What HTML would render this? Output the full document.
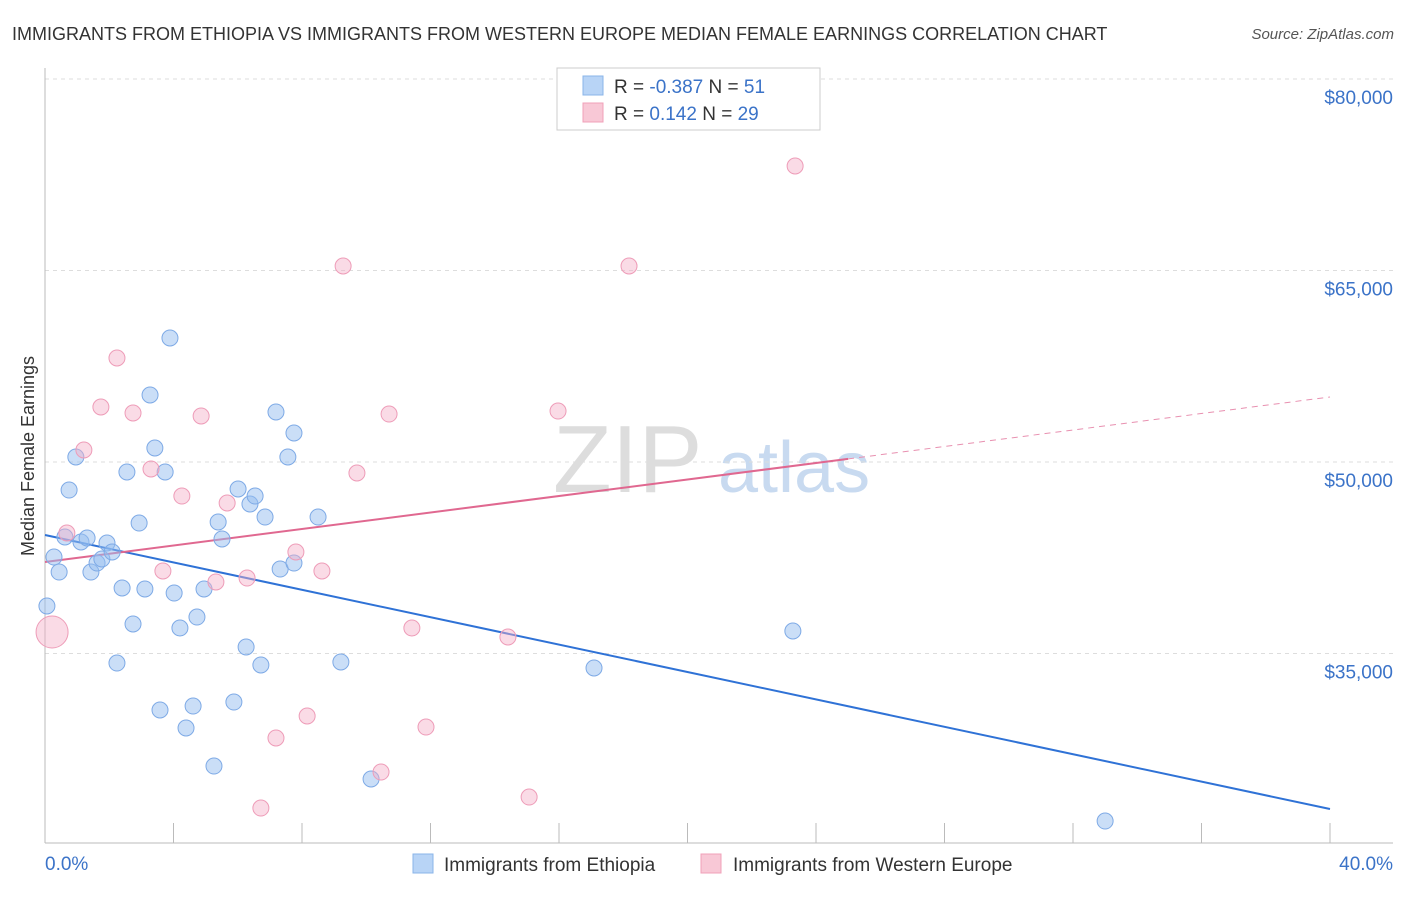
<!DOCTYPE html>
<html><head><meta charset="utf-8"><style>
body{margin:0;background:#fff;font-family:"Liberation Sans",sans-serif}
svg text{font-family:"Liberation Sans",sans-serif}
</style></head><body>
<svg id="chart" width="1406" height="892" viewBox="0 0 1406 892" xmlns="http://www.w3.org/2000/svg">
<text x="12" y="40" font-size="18" fill="#333">IMMIGRANTS FROM ETHIOPIA VS IMMIGRANTS FROM WESTERN EUROPE MEDIAN FEMALE EARNINGS CORRELATION CHART</text>
<text x="1394" y="39" font-size="15" fill="#555" font-style="italic" text-anchor="end">Source: ZipAtlas.com</text>
<g>
<text x="553" y="492" font-size="96" font-family="Liberation Serif" fill="#ddd">ZIP</text>
<text x="718" y="492" font-size="72" fill="#c8daf0">atlas</text>
</g>
<g id="grid"></g>
<g id="axes"></g>
<text transform="translate(34,456) rotate(-90)" font-size="18" fill="#333" text-anchor="middle">Median Female Earnings</text>
<g id="trends"></g>
<g id="points"></g>
<g>
<rect x="557" y="68" width="263" height="62" fill="#fff" stroke="#ccc"/>
<rect x="583" y="76" width="20" height="19" fill="#b8d4f6" stroke="#8ab4e8"/>
<rect x="583" y="103" width="20" height="19" fill="#f8c8d6" stroke="#f0a0b8"/>
<text x="614" y="93" font-size="19" fill="#333">R = <tspan fill="#3b73c8">-0.387</tspan>   N = <tspan fill="#3b73c8"> 51</tspan></text>
<text x="614" y="120" font-size="19" fill="#333">R =  <tspan fill="#3b73c8"> 0.142</tspan>   N = <tspan fill="#3b73c8">29</tspan></text>
</g>
<g>
<rect x="413" y="854" width="20" height="19" fill="#b8d4f6" stroke="#8ab4e8"/>
<text x="444" y="871" font-size="19" fill="#333">Immigrants from Ethiopia</text>
<rect x="701" y="854" width="20" height="19" fill="#f8c8d6" stroke="#f0a0b8"/>
<text x="733" y="871" font-size="19" fill="#333">Immigrants from Western Europe</text>
</g>
</svg>
<script>
const yTicks=[35000,50000,65000,80000];
const yTickLabels=["$35,000","$50,000","$65,000","$80,000"];
const xTickValues=[0,4,8,12,16,20,24,28,32,36,40];
const xTickLabels=["0.0%","40.0%"];
const blueX=[0.06,0.28,0.44,0.62,0.75,0.96,1.12,1.31,1.43,1.62,1.77,1.93,2.09,2.24,2.40,2.55,2.74,2.93,3.11,3.27,3.42,3.58,3.74,3.89,4.02,4.20,4.39,4.61,4.73,4.95,5.26,5.39,5.51,5.88,6.01,6.26,6.38,6.54,6.72,6.85,7.19,7.32,7.56,7.75,7.75,8.50,9.21,10.15,17.09,23.28,33.00];
const blueY=[38720,42558,41383,44125,47806,50391,43733,44047,41383,42088,42402,43655,42950,34255,40130,49216,37310,45221,40052,55248,51096,30574,49216,59713,39738,36997,29164,30887,37858,40052,26187,45300,43968,31200,47885,35509,46710,47336,34099,45691,53916,41618,50391,52271,42088,45691,34334,25169,33864,36762,21879];
const pinkX=[0.22,0.68,1.21,1.74,2.24,2.74,3.30,3.67,4.26,4.86,5.32,5.67,6.29,7.19,6.72,7.81,8.16,8.62,9.28,9.71,10.46,10.71,11.42,11.86,14.41,15.07,15.97,18.18,23.35];
const pinkY=[36684,44438,50940,54308,58146,53838,49451,41462,47336,53603,40600,46788,40913,28381,22897,42950,30104,41462,65352,49138,25717,53759,36997,29242,36292,23759,53994,65352,73185];
const pinkR=[16,8,8,8,8,8,8,8,8,8,8,8,8,8,8,8,8,8,8,8,8,8,8,8,8,8,8,8,8];
const blueTrend=[44281,22819];
const pinkTrend=[42166,55091];
const pinkSolidEnd=25;

const NS="http://www.w3.org/2000/svg";
const X0=45,X1=1330,Y80=79,PXPER=191.5/15000;
function sx(v){return X0+(v/40)*(X1-X0);}
function sy(v){return Y80+(80000-v)*PXPER;}
function mk(t,a,p){const e=document.createElementNS(NS,t);for(const k in a)e.setAttribute(k,a[k]);p.appendChild(e);return e;}
const grid=document.getElementById('grid'),axes=document.getElementById('axes');
yTicks.forEach((v,i)=>{
 const l=mk('line',{x1:X0,x2:1393,y1:sy(v),y2:sy(v),stroke:'#ddd','stroke-dasharray':'4,4'},grid);
 
 
 const t=mk('text',{x:1393,y:sy(v)+25,'font-size':19,fill:'#3b73c8','text-anchor':'end'},axes);
 t.textContent=yTickLabels[i];
 
 
});
const ax=mk('line',{x1:X0,x2:1393,y1:843,y2:843,stroke:'#bbb'},axes);


const ay=mk('line',{x1:X0,x2:X0,y1:68,y2:843,stroke:'#bbb'},axes);


xTickValues.forEach(v=>{
 const t=mk('line',{x1:sx(v),x2:sx(v),y1:823,y2:843,stroke:'#bbb'},axes);
 
 
});
const xl0=mk('text',{x:X0,y:870,'font-size':19,fill:'#3b73c8'},axes);xl0.textContent=xTickLabels[0];


const xl1=mk('text',{x:1393,y:870,'font-size':19,fill:'#3b73c8','text-anchor':'end'},axes);xl1.textContent=xTickLabels[1];



const pts=document.getElementById('points');
blueX.forEach((x,i)=>{
 const c=mk('circle',{cx:sx(x),cy:sy(blueY[i]),r:8,fill:'rgba(150,190,240,0.5)',stroke:'#7eaae6','stroke-width':1},pts);
 
 
});
pinkX.forEach((x,i)=>{
 const c=mk('circle',{cx:sx(x),cy:sy(pinkY[i]),r:pinkR[i],fill:'rgba(245,175,200,0.45)',stroke:'#ee9cb8','stroke-width':1},pts);
 
 
});
const tr=document.getElementById('trends');
const bl=mk('line',{x1:sx(0),y1:sy(blueTrend[0]),x2:sx(40),y2:sy(blueTrend[1]),stroke:'#2f72d6','stroke-width':2},tr);


const pm=pinkTrend[0]+(pinkTrend[1]-pinkTrend[0])*pinkSolidEnd/40;
const pl=mk('line',{x1:sx(0),y1:sy(pinkTrend[0]),x2:sx(pinkSolidEnd),y2:sy(pm),stroke:'#e06890','stroke-width':2},tr);


const pd=mk('line',{x1:sx(pinkSolidEnd),y1:sy(pm),x2:sx(40),y2:sy(pinkTrend[1]),stroke:'#e890b0','stroke-width':1,'stroke-dasharray':'6,5'},tr);


</script>
</body></html>
